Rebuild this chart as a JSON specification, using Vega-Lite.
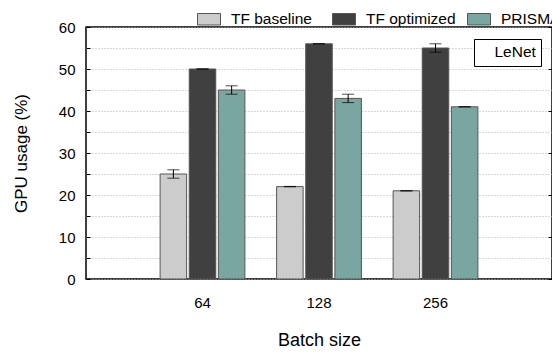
{
  "$schema": "https://vega.github.io/schema/vega-lite/v6.json",
  "width": 466,
  "height": 252,
  "autosize": {"type": "none"},
  "padding": {"left": 86, "top": 27, "right": 0, "bottom": 73},
  "config": {
    "font": "Liberation Sans",
    "view": {"stroke": "black", "strokeWidth": 1.5},
    "axis": {"labelColor": "black", "titleColor": "black", "titleFontWeight": "normal", "domain": false, "labelFont": "Liberation Sans", "titleFont": "Liberation Sans"},
    "legend": {"labelFont": "Liberation Sans", "labelColor": "black"}
  },
  "data": {
    "values": [
      {"batch": "64", "system": "TF baseline", "usage": 25, "low": 24, "high": 26},
      {"batch": "64", "system": "TF optimized", "usage": 50, "low": 49.95, "high": 50.05},
      {"batch": "64", "system": "PRISMA", "usage": 45, "low": 44, "high": 46},
      {"batch": "128", "system": "TF baseline", "usage": 22, "low": 21.95, "high": 22.05},
      {"batch": "128", "system": "TF optimized", "usage": 56, "low": 56, "high": 56},
      {"batch": "128", "system": "PRISMA", "usage": 43, "low": 42, "high": 44},
      {"batch": "256", "system": "TF baseline", "usage": 21, "low": 20.95, "high": 21.05},
      {"batch": "256", "system": "TF optimized", "usage": 55, "low": 54, "high": 56},
      {"batch": "256", "system": "PRISMA", "usage": 41, "low": 40.95, "high": 41.05}
    ]
  },
  "encoding": {
    "x": {"field": "batch", "type": "nominal", "sort": ["64", "128", "256"], "scale": {"paddingInner": 0, "paddingOuter": 0.5},
      "axis": {"title": "Batch size", "labelAngle": 0, "ticks": false, "labelFontSize": 15, "labelPadding": 16, "titleFontSize": 18, "titlePadding": 21}},
    "xOffset": {"field": "system", "type": "nominal", "sort": ["TF baseline", "TF optimized", "PRISMA"], "scale": {"paddingInner": 0.09, "paddingOuter": 0.545}}
  },
  "layer": [
    {
      "mark": {"type": "bar", "stroke": "#555555", "strokeWidth": 1},
      "encoding": {
        "y": {"field": "usage", "type": "quantitative", "scale": {"domain": [0, 60], "nice": false},
          "axis": {"title": "GPU usage (%)", "orient": "left", "values": [0, 5, 10, 15, 20, 25, 30, 35, 40, 45, 50, 55, 60],
            "labelExpr": "datum.value % 10 == 0 ? datum.label : ''", "tickSize": -4, "tickColor": "black",
            "grid": true, "gridDash": [1, 2], "gridColor": "#b0b0b0", "labelFontSize": 15, "labelPadding": 15,
            "titleFontSize": 17, "titlePadding": 28}},
        "fill": {"field": "system", "type": "nominal",
          "scale": {"domain": ["TF baseline", "TF optimized", "PRISMA"], "range": ["#cccccc", "#404040", "#7aa6a2"]},
          "legend": {"title": null, "orient": "none", "legendX": 111, "legendY": -20, "direction": "horizontal", "columns": 3,
            "gridAlign": "all", "columnPadding": 9, "labelOffset": 10, "labelFontSize": 15.5, "padding": 0,
            "symbolType": "M-1,-0.5H1V0.5H-1Z", "symbolSize": 529, "symbolStrokeColor": "#555555", "symbolStrokeWidth": 1}}
      }
    },
    {
      "mark": {"type": "rule", "color": "black", "strokeWidth": 1},
      "encoding": {
        "y": {"field": "low", "type": "quantitative",
          "axis": {"orient": "right", "title": null, "labels": false, "grid": false, "values": [0, 10, 20, 30, 40, 50, 60], "tickSize": -4, "tickColor": "black"}},
        "y2": {"field": "high"}
      }
    },
    {
      "mark": {"type": "tick", "color": "black", "size": 12, "thickness": 1},
      "encoding": {
        "y": {"field": "low", "type": "quantitative", "axis": null}
      }
    },
    {
      "mark": {"type": "tick", "color": "black", "size": 12, "thickness": 1},
      "encoding": {
        "y": {"field": "high", "type": "quantitative", "axis": null},
        "strokeDash": {"datum": "LeNet", "scale": {"range": [[1, 0]]},
          "legend": {"title": null, "orient": "none", "legendX": 388, "legendY": 12, "symbolSize": 0, "symbolStrokeWidth": 0, "symbolOpacity": 0,
            "labelOffset": 0, "labelFontSize": 15.5, "padding": 5, "strokeColor": "black", "fillColor": "white",
            "labelExpr": "'\u00a0' + datum.label + '\u00a0'"}}
      }
    }
  ],
  "resolve": {"axis": {"y": "independent"}}
}
